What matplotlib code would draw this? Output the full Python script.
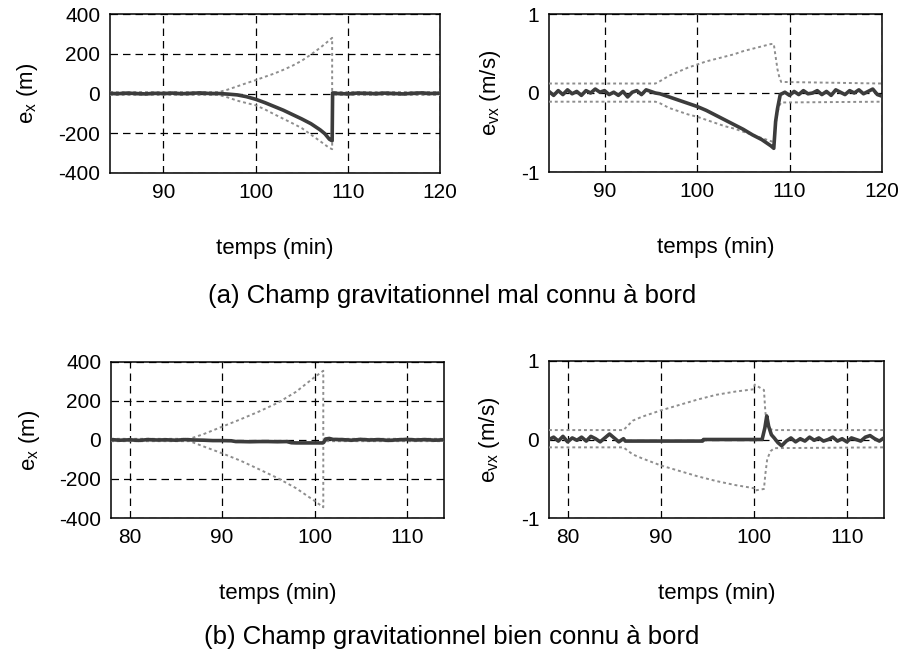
import matplotlib
matplotlib.use("Agg")
import matplotlib.pyplot as plt

plt.rcParams['font.family'] = ['Liberation Sans', 'DejaVu Sans']
plt.rcParams['mathtext.fontset'] = 'custom'
plt.rcParams['mathtext.rm'] = 'Liberation Sans'
plt.rcParams['mathtext.it'] = 'Liberation Sans'
plt.rcParams['axes.unicode_minus'] = False

# ---------------- (a) position error ----------------
a_pos_t = [84.2, 85, 86, 87, 88, 89, 90, 91, 92, 93, 94, 95, 96, 97, 98, 99, 100,
           101, 102, 103, 104, 105, 106, 107, 107.5, 108, 108.3, 108.35, 109, 110,
           111, 112, 113, 114, 115, 116, 117, 118, 119, 120]
a_pos_err = [1, -1, 2, 0, -2, 1, 0, 2, -1, 1, 3, 0, 0, -3, -7, -16, -29,
             -46, -65, -84, -106, -128, -152, -183, -202, -230, -238, 3, 0, -2,
             2, 1, -1, 2, 0, -2, 1, 3, 0, 2]
a_pos_bt = [84.2, 96, 97, 98, 99, 100, 101, 102, 103, 104, 105, 106, 107, 108,
            108.3, 108.3, 120]
a_pos_up = [7, 7, 20, 36, 52, 67, 84, 100, 119, 140, 165, 196, 230, 268, 280, 7, 7]
a_pos_lo = [-7, -7, -20, -36, -48, -59, -80, -104, -127, -150, -174, -207, -240,
            -274, -280, -7, -7]

# ---------------- (a) velocity error ----------------
a_vel_t = [84.0, 84.5, 85.0, 85.5, 86.0, 86.5, 87.0, 87.5, 88.0, 88.5, 89.0, 89.5,
           90.0, 90.5, 91.0, 91.5, 92.0, 92.5, 93.0, 93.5, 94.0, 94.5, 95.0, 95.5,
           96, 97, 98, 99, 100, 101, 102, 103, 104, 105, 106, 107, 108, 108.3,
           108.5, 108.7, 109,
           109.5, 110.0, 110.5, 111.0, 111.5, 112.0, 112.5, 113.0, 113.5, 114.0,
           114.5, 115.0, 115.5, 116.0, 116.5, 117.0, 117.5, 118.0, 118.5, 119.0,
           119.5, 120.0]
a_vel_err = [0.02, -0.03, 0.03, -0.02, 0.04, -0.01, 0.02, -0.03, 0.03, 0.0, 0.05,
             0.01, 0.03, -0.02, 0.01, -0.03, 0.02, -0.05, 0.01, 0.03, -0.02, 0.04,
             0.02, 0.0,
             -0.01, -0.05, -0.09, -0.13, -0.17, -0.22, -0.28, -0.34, -0.40, -0.46,
             -0.53, -0.59, -0.67, -0.70, -0.36, -0.20, -0.02,
             0.01, -0.03, 0.02, -0.02, 0.03, -0.01, 0.0, 0.03, -0.02, 0.02, -0.03,
             0.04, 0.01, -0.02, 0.03, 0.0, 0.04, -0.01, 0.02, 0.05, -0.02, -0.04]
a_vel_bt = [84, 95.5, 96, 97, 98, 99, 100, 101, 102, 103, 104, 105, 106, 107, 108,
            108.3, 108.5, 108.7, 108.9, 109.1, 120]
a_vel_up = [0.12, 0.12, 0.15, 0.22, 0.27, 0.32, 0.36, 0.40, 0.43, 0.46, 0.49, 0.53,
            0.56, 0.59, 0.62, 0.62, 0.46, 0.30, 0.20, 0.14, 0.12]
a_vel_lo = [-0.11, -0.11, -0.13, -0.19, -0.23, -0.27, -0.30, -0.34, -0.38, -0.42,
            -0.45, -0.49, -0.53, -0.57, -0.61, -0.62, -0.40, -0.25, -0.16, -0.12,
            -0.11]

# ---------------- (b) position error ----------------
b_pos_t = [78, 79, 80, 81, 82, 83, 84, 85, 86, 87, 88, 89, 90, 91, 91.5, 92, 93, 94,
           95, 96, 97, 97.5, 98, 99, 100, 100.9, 101.0, 101.2, 101.6, 102, 103, 104,
           105, 106, 107, 108, 109, 110, 111, 112, 113, 114]
b_pos_err = [2, -1, 1, -2, 2, 0, 1, -1, 2, 0, -1, -3, -3, -4, -8, -8, -9, -8, -8,
             -9, -8, -14, -15, -15, -15, -15, -12, 5, 8, 3, 2, -1, 3, 0, 2, -2, 1,
             3, 0, 2, -1, 1]
b_pos_bt = [78, 86.5, 88, 90, 92, 94, 96, 98, 100, 100.95, 100.95, 114]
b_pos_up = [6, 6, 30, 68, 106, 146, 190, 247, 322, 355, 6, 6]
b_pos_lo = [-6, -6, -33, -68, -106, -150, -195, -247, -312, -345, -6, -6]

# ---------------- (b) velocity error ----------------
b_vel_t = [78.0, 78.5, 79.0, 79.5, 80.0, 80.5, 81.0, 81.5, 82.0, 82.5, 83.0, 83.5,
           84.0, 84.5, 85.0, 85.5, 86.0,
           86.2, 94.5, 94.6, 100.9, 101.2, 101.4, 101.6, 101.9, 102.2, 102.6, 103,
           103.5,
           104.0, 104.5, 105.0, 105.5, 106.0, 106.5, 107.0, 107.5, 108.0, 108.5,
           109.0, 109.5, 110.0, 110.5, 111.0, 111.5, 112.0, 112.5, 113.0, 113.5,
           114.0]
b_vel_err = [0.0, 0.03, -0.02, 0.04, -0.03, 0.02, -0.01, 0.03, -0.02, 0.04, 0.01,
             -0.03, 0.02, 0.07, 0.02, -0.03, 0.01,
             -0.02, -0.02, 0.0, 0.0, 0.15, 0.30, 0.17, 0.06, 0.02, -0.04, -0.08,
             -0.02,
             0.02, -0.03, 0.01, -0.02, 0.03, -0.01, 0.02, -0.02, 0.0, 0.03, -0.02,
             0.01, -0.03, 0.02, 0.0, -0.02, 0.03, 0.05, 0.01, -0.02, 0.02]
b_vel_bt = [78, 86, 87, 88, 90, 92, 94, 96, 98, 100, 100.1, 101.1, 101.25, 101.45,
            101.8, 102.2, 114]
b_vel_up = [0.12, 0.12, 0.24, 0.29, 0.37, 0.44, 0.51, 0.57, 0.61, 0.64, 0.70, 0.63,
            0.35, 0.18, 0.13, 0.12, 0.12]
b_vel_lo = [-0.10, -0.10, -0.19, -0.24, -0.33, -0.40, -0.47, -0.53, -0.58, -0.62,
            -0.65, -0.63, -0.44, -0.25, -0.15, -0.11, -0.10]

x_label = "temps (min)"
ylab_pos = r"e$_\mathregular{x}$ (m)"
ylab_vel = r"e$_\mathregular{vx}$ (m/s)"
caption_a = "(a) Champ gravitationnel mal connu à bord"
caption_b = "(b) Champ gravitationnel bien connu à bord"

ERR_COLOR = '#3c3c3c'
BND_COLOR = '#8e8e8e'

fig = plt.figure(figsize=(9.04, 6.54), dpi=100)

W, H = 904, 654
def axes_px(l, t, r, b):
    return fig.add_axes([l / W, 1 - b / H, (r - l) / W, (b - t) / H])

panels = [
    (axes_px(110, 14, 440, 173), a_pos_t, a_pos_err, a_pos_bt, a_pos_up, a_pos_lo,
     (84.2, 120), [90, 100, 110, 120], (-400, 400), [-400, -200, 0, 200, 400], ylab_pos, 27),
    (axes_px(549, 14, 882, 172), a_vel_t, a_vel_err, a_vel_bt, a_vel_up, a_vel_lo,
     (84, 120), [90, 100, 110, 120], (-1, 1), [-1, 0, 1], ylab_vel, 491),
    (axes_px(111, 362, 444, 518), b_pos_t, b_pos_err, b_pos_bt, b_pos_up, b_pos_lo,
     (78, 114), [80, 90, 100, 110], (-400, 400), [-400, -200, 0, 200, 400], ylab_pos, 30),
    (axes_px(549, 361, 884, 518), b_vel_t, b_vel_err, b_vel_bt, b_vel_up, b_vel_lo,
     (78, 114), [80, 90, 100, 110], (-1, 1), [-1, 0, 1], ylab_vel, 490),
]

for ax, t, e, bt, up, lo, xl, xt, yl, yt, ylab, ylx in panels:
    ax.plot(bt, up, color=BND_COLOR, lw=1.4, ls=(0, (1.5, 1.5)), zorder=3)
    ax.plot(bt, lo, color=BND_COLOR, lw=1.4, ls=(0, (1.5, 1.5)), zorder=3)
    ax.plot(t, e, color=ERR_COLOR, lw=2.6, zorder=4)
    ax.set_xlim(*xl)
    ax.set_ylim(*yl)
    ax.set_xticks(xt)
    ax.set_yticks(yt)
    ax.grid(True, color='k', lw=0.9, ls=(0, (6, 4)))
    ax.set_axisbelow(True)
    ax.tick_params(length=0, labelsize=15, pad=7)
    for s in ax.spines.values():
        s.set_linewidth(1.1)
        s.set_color('k')
    ax.set_xlabel(x_label, fontsize=16, labelpad=26)
    ax.set_ylabel(ylab, fontsize=16, va='center')
    bb = ax.get_position()
    ax.yaxis.set_label_coords((ylx / W - bb.x0) / bb.width, 0.5)

fig.text(0.5, 1 - 296 / H, caption_a, ha='center', va='center', fontsize=18.5)
fig.text(0.5, 1 - 637 / H, caption_b, ha='center', va='center', fontsize=18.5)

fig.savefig("out.png", dpi=100, facecolor='white')
